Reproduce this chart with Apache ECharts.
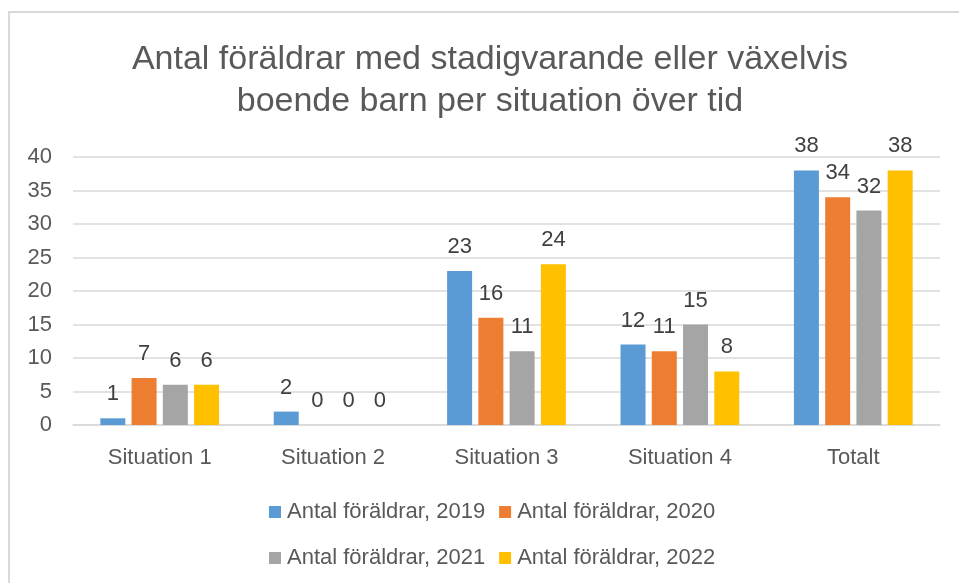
<!DOCTYPE html>
<html><head><meta charset="utf-8">
<script src="https://cdn.jsdelivr.net/npm/echarts@6/dist/echarts.min.js"></script>
<style>html,body{margin:0;padding:0;background:#fff}#c{width:959px;height:583px}</style>
</head><body><div id="c"></div>
<script>
const categories = ['Situation 1','Situation 2','Situation 3','Situation 4','Totalt'];
const seriesNames = ['Antal föräldrar, 2019','Antal föräldrar, 2020','Antal föräldrar, 2021','Antal föräldrar, 2022'];
const v2019 = [1, 2, 23, 12, 38];
const v2020 = [7, 0, 16, 11, 34];
const v2021 = [6, 0, 11, 15, 32];
const v2022 = [6, 0, 24, 8, 38];
const colors = ['#5b9bd5','#ed7d31','#a5a5a5','#ffc000'];
const yTicks = [0,5,10,15,20,25,30,35,40];

const font = 'Liberation Sans';
const values = [v2019, v2020, v2021, v2022];
const legendBase = {
  left: 264, itemWidth: 12, itemHeight: 12, itemGap: 14, icon: 'rect',
  textStyle: {fontFamily: font, fontSize: 22, color: '#595959', padding: [0,0,0,1]}
};
const chart = echarts.init(document.getElementById('c'));
chart.setOption({
  animation: false,
  graphic: [{type:'rect', shape:{x:9,y:12,width:1000,height:700}, style:{fill:'none', stroke:'#d9d9d9', lineWidth:2}}],
  title: {
    text: 'Antal föräldrar med stadigvarande eller växelvis\nboende barn per situation över tid',
    left: 485, textAlign: 'center', top: 34,
    textStyle: {fontFamily: font, fontSize: 34, fontWeight: 'normal', color: '#595959', lineHeight: 42}
  },
  legend: [
    Object.assign({data: seriesNames.slice(0,2), top: 496}, legendBase),
    Object.assign({data: seriesNames.slice(2,4), top: 542}, legendBase)
  ],
  grid: {left: 73, right: 19, top: 157, bottom: 158},
  xAxis: {
    type: 'category', data: categories,
    axisLine: {lineStyle: {color: '#d9d9d9', width: 1.5}},
    axisTick: {show: false},
    axisLabel: {fontFamily: font, fontSize: 22, color: '#595959', margin: 22}
  },
  yAxis: {
    type: 'value', min: 0, max: 40, interval: 5,
    axisLine: {show: false}, axisTick: {show: false},
    splitLine: {lineStyle: {color: '#d9d9d9', width: 1.5}},
    axisLabel: {fontFamily: font, fontSize: 22, color: '#595959', margin: 21,
      formatter: v => yTicks.includes(v) ? String(v) : ''}
  },
  series: values.map((d, i) => ({
    name: seriesNames[i], type: 'bar', data: d,
    barWidth: 25, barGap: '25%',
    itemStyle: {color: colors[i]},
    label: {show: true, position: 'top', distance: 13, fontFamily: font, fontSize: 22, color: '#404040'}
  }))
});
</script></body></html>
